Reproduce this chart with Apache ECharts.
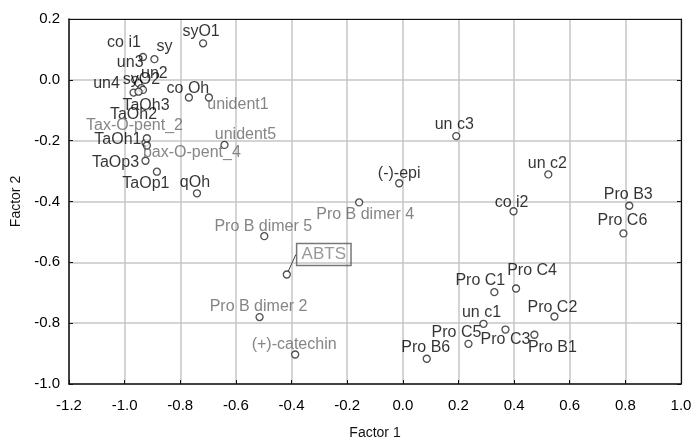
<!DOCTYPE html>
<html>
<head>
<meta charset="utf-8">
<script src="https://cdn.jsdelivr.net/npm/echarts@6/dist/echarts.min.js"></script>
<style>
  html, body { margin: 0; padding: 0; background: #fff; }
  #chart { width: 691px; height: 439px; }
</style>
</head>
<body>
<div id="chart"></div>
<script>
// compound names and their loadings on factor 1 / factor 2
const names = [
  "syO1", "co i1", "sy", "un3", "un4", "syO2", "un2", "co Oh", "unident1",
  "TaOh3", "TaOh2", "Tax-O-pent_2", "TaOh1", "bax-O-pent_4", "unident5",
  "TaOp3", "TaOp1", "qOh", "un c3", "(-)-epi", "un c2", "co i2", "Pro B3",
  "Pro C6", "Pro B dimer 4", "Pro B dimer 5", "ABTS", "Pro B dimer 2",
  "(+)-catechin", "Pro C1", "Pro C4", "Pro C2", "un c1", "Pro C5", "Pro C3",
  "Pro B1", "Pro B6"
];
const factor1 = [
  -0.718, -0.934, -0.893, -0.962, -0.968, -0.950, -0.940, -0.769, -0.697,
  -0.934, -0.950, -0.925, -0.920, -0.920, -0.641,
  -0.925, -0.884, -0.740, 0.192, -0.013, 0.523, 0.398, 0.814,
  0.793, -0.157, -0.498, -0.417, -0.515,
  -0.387, 0.329, 0.407, 0.545, 0.290, 0.236, 0.369,
  0.473, 0.086
];
const factor2 = [
  0.120, 0.075, 0.068, 0.000, -0.042, -0.011, -0.027, -0.058, -0.058,
  -0.033, -0.039, -0.207, -0.192, -0.216, -0.214,
  -0.266, -0.302, -0.373, -0.185, -0.340, -0.311, -0.432, -0.414,
  -0.505, -0.403, -0.514, -0.640, -0.780,
  -0.903, -0.698, -0.686, -0.778, -0.802, -0.868, -0.821,
  -0.838, -0.917
];
const xTicks = [-1.2, -1.0, -0.8, -0.6, -0.4, -0.2, 0.0, 0.2, 0.4, 0.6, 0.8, 1.0];
const yTicks = [-1.0, -0.8, -0.6, -0.4, -0.2, 0.0, 0.2];

// labels printed in grey in the original
const greyLabels = ["unident1", "unident5", "Tax-O-pent_2", "bax-O-pent_4",
  "Pro B dimer 4", "Pro B dimer 5", "Pro B dimer 2", "(+)-catechin"];

// label placement (px, relative to the marker centre)
const labelOffset = {
  "syO1": [-2, -12], "co i1": [-19, -14], "sy": [10, -13], "un3": [-5, -17],
  "un4": [-27, -9], "syO2": [3, -4], "un2": [13, -14], "co Oh": [-1, -9],
  "unident1": [29, 7], "TaOh3": [3, 16], "TaOh2": [-5, 23],
  "Tax-O-pent_2": [-11, -17], "TaOh1": [-29, 1], "bax-O-pent_4": [45, 7],
  "unident5": [21, -10], "TaOp3": [-30, 2], "TaOp1": [-11, 12], "qOh": [-2, -11],
  "un c3": [-2, -12], "(-)-epi": [0, -10], "un c2": [-1, -11], "co i2": [-2, -9],
  "Pro B3": [-1, -11], "Pro C6": [-1, -13], "Pro B dimer 4": [6, 12],
  "Pro B dimer 5": [-1, -10], "ABTS": [37, -20], "Pro B dimer 2": [-1, -10],
  "(+)-catechin": [-1, -10], "Pro C1": [-14, -12], "Pro C4": [16, -18],
  "Pro C2": [-2, -9], "un c1": [-2, -11], "Pro C5": [-12, -11], "Pro C3": [0, 10],
  "Pro B1": [18, 13], "Pro B6": [-1, -11]
};

const FONT = "'Liberation Sans', Arial, sans-serif";

const points = names.map((name, i) => {
  const item = {
    name: name,
    value: [factor1[i], factor2[i]],
    label: {
      offset: labelOffset[name],
      color: greyLabels.includes(name) ? "#666" : "#000",
    },
  };
  if (name === "ABTS") {
    item.label = {
      offset: labelOffset[name],
      color: "#808080",
      fontSize: 17,
      lineHeight: 18,
      borderColor: "#555",
      borderWidth: 1.5,
      padding: [2, 5, 2, 5],
    };
    item.labelLine = { show: true, lineStyle: { color: "#444", width: 1 } };
  }
  return item;
});

const chart = echarts.init(document.getElementById("chart"));

const tickFmt = (v) => v.toFixed(1);

chart.setOption({
  animation: false,
  backgroundColor: "#fff",
  grid: { left: 69, right: 10, top: 19, bottom: 55, outerBoundsMode: "none" },
  xAxis: [
    {
      type: "value",
      min: xTicks[0],
      max: xTicks[xTicks.length - 1],
      interval: 0.2,
      name: "Factor 1",
      nameLocation: "middle",
      nameGap: 42,
      nameTextStyle: { fontFamily: FONT, fontSize: 14, color: "#111" },
      axisLine: { show: true, onZero: false, lineStyle: { color: "#111", width: 1.5 } },
      axisTick: { show: true, inside: true, length: 4, lineStyle: { color: "#111" } },
      axisLabel: { formatter: tickFmt, fontFamily: FONT, fontSize: 15, color: "#000", margin: 14 },
      splitLine: { show: true, lineStyle: { color: "#c6c6c6", width: 1.5 } },
    },
    {
      type: "value",
      position: "top",
      min: xTicks[0],
      max: xTicks[xTicks.length - 1],
      interval: 0.2,
      axisLine: { show: true, onZero: false, lineStyle: { color: "#111", width: 1.2 } },
      axisTick: { show: false },
      axisLabel: { show: false },
      splitLine: { show: false },
    },
  ],
  yAxis: [
    {
      type: "value",
      min: yTicks[0],
      max: yTicks[yTicks.length - 1],
      interval: 0.2,
      name: "Factor 2",
      nameLocation: "middle",
      nameGap: 40,
      nameTextStyle: { fontFamily: FONT, fontSize: 14, color: "#111" },
      axisLine: { show: true, onZero: false, lineStyle: { color: "#111", width: 1.5 } },
      axisTick: { show: true, inside: true, length: 4, lineStyle: { color: "#111" } },
      axisLabel: { formatter: tickFmt, fontFamily: FONT, fontSize: 15, color: "#000", margin: 9 },
      splitLine: { show: true, lineStyle: { color: "#c6c6c6", width: 1.5 } },
    },
    {
      type: "value",
      position: "right",
      min: yTicks[0],
      max: yTicks[yTicks.length - 1],
      interval: 0.2,
      axisLine: { show: true, onZero: false, lineStyle: { color: "#111", width: 1.2 } },
      axisTick: { show: true, inside: true, length: 4, lineStyle: { color: "#111" } },
      axisLabel: { show: false },
      splitLine: { show: false },
    },
  ],
  series: [
    {
      type: "scatter",
      symbol: "circle",
      symbolSize: 7,
      itemStyle: { color: "#fff", borderColor: "#222", borderWidth: 1.3 },
      label: {
        show: true,
        position: "inside",
        align: "center",
        verticalAlign: "middle",
        formatter: "{b}",
        fontFamily: FONT,
        fontSize: 16,
      },
      labelLine: { show: false },
      emphasis: { disabled: true },
      data: points,
    },
  ],
});
</script>
</body>
</html>
